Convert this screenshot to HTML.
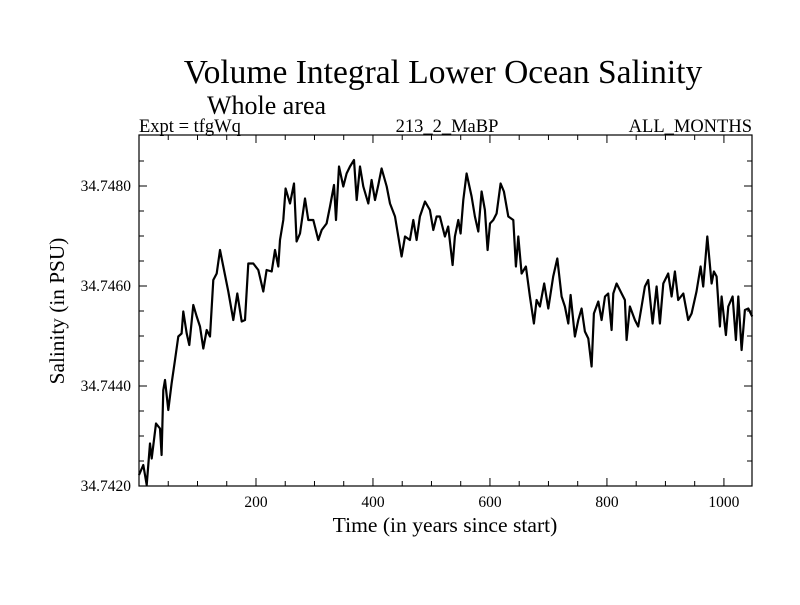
<!DOCTYPE html>
<html><head><meta charset="utf-8"><style>
body{margin:0;background:#fff}
svg text{font-family:"Liberation Serif",serif;fill:#000}
</style></head><body>
<svg id="chart" width="800" height="600" viewBox="0 0 800 600" xmlns="http://www.w3.org/2000/svg">
<rect width="800" height="600" fill="#fff"/>
<text x="443" y="83" font-size="33.5" text-anchor="middle">Volume Integral Lower Ocean Salinity</text>
<text x="207" y="114" font-size="26">Whole area</text>
<text x="139" y="132" font-size="18.5">Expt = tfgWq</text>
<text x="447" y="132" font-size="18.5" text-anchor="middle">213_2_MaBP</text>
<text x="752" y="132" font-size="18.5" text-anchor="end">ALL_MONTHS</text>
<text transform="translate(64,311) rotate(-90)" font-size="21.3" text-anchor="middle">Salinity (in PSU)</text>
<text x="445" y="532" font-size="21.6" text-anchor="middle">Time (in years since start)</text>
<g id="ticks"></g>
<path id="series" fill="none" stroke="#000" stroke-width="2.2" stroke-linejoin="round"/>
<rect x="139" y="135" width="613" height="351" fill="none" stroke="#000" stroke-width="1.2"/>
</svg>
<script>
const years=[0,7.4,13.1,18.8,21.7,29.1,35.9,38.7,41.6,44.5,50.1,55.8,61.5,67.2,72.9,75.8,81.5,86.0,92.9,98.6,104.3,110.0,115.7,121.4,127.1,132.8,138.5,144.2,152.7,161.3,168.1,175.5,181.2,186.9,195.4,204.0,212.5,218.2,226.8,232.5,238.2,241.0,246.7,250.7,258.1,265.0,269.5,275.2,283.8,289.5,298.0,306.6,312.3,320.8,326.5,333.3,336.8,341.9,349.3,355.0,360.7,367.5,372.1,377.8,383.5,392.0,397.7,403.4,409.1,414.8,423.4,429.1,437.6,443.3,449.0,454.7,463.2,468.9,474.6,480.3,488.9,497.4,503.1,508.8,514.5,523.0,528.7,536.2,540.1,545.8,549.8,554.4,560.1,568.6,574.3,580.0,585.7,591.4,596.0,600.0,605.7,611.4,618.2,623.9,631.3,639.9,644.4,648.4,654.1,661.5,668.3,675.2,679.7,685.4,692.8,699.7,708.2,715.1,722.5,728.2,733.9,737.9,745.3,751.0,756.7,762.4,768.1,773.8,777.7,785.2,790.9,796.6,802.2,807.9,810.8,816.5,825.0,830.7,833.6,839.3,847.8,853.5,859.2,864.9,870.6,878.0,884.9,890.6,896.3,904.8,910.5,916.2,921.9,930.5,939.0,944.7,953.2,960.1,964.6,971.5,978.9,982.9,987.4,993.1,996.0,1003.4,1007.4,1014.8,1020.5,1024.5,1030.2,1035.9,1041.6,1048.4];
const salinity=[34.74222,34.74242,34.74202,34.74285,34.74255,34.74325,34.74315,34.74262,34.74392,34.74412,34.74352,34.74405,34.74452,34.74499,34.74505,34.74549,34.74505,34.74482,34.74562,34.74539,34.74519,34.74475,34.74512,34.74499,34.74612,34.74625,34.74672,34.74639,34.74589,34.74532,34.74585,34.74529,34.74532,34.74645,34.74645,34.74632,34.74589,34.74632,34.74629,34.74672,34.74639,34.74692,34.74732,34.74795,34.74765,34.74805,34.74689,34.74705,34.74775,34.74732,34.74732,34.74692,34.74712,34.74725,34.74759,34.74802,34.74732,34.74839,34.74799,34.74825,34.74839,34.74852,34.74772,34.74839,34.74799,34.74765,34.74812,34.74772,34.74802,34.74835,34.74799,34.74765,34.74739,34.74699,34.74659,34.74699,34.74692,34.74732,34.74692,34.74739,34.74769,34.74752,34.74712,34.74739,34.74739,34.74699,34.74719,34.74642,34.74699,34.74732,34.74705,34.74772,34.74825,34.74779,34.74739,34.74709,34.74789,34.74752,34.74672,34.74725,34.74732,34.74745,34.74805,34.74789,34.74739,34.74732,34.74639,34.74699,34.74625,34.74639,34.74579,34.74525,34.74572,34.74559,34.74605,34.74555,34.74619,34.74655,34.74579,34.74559,34.74525,34.74582,34.74499,34.74532,34.74555,34.74509,34.74495,34.74439,34.74545,34.74569,34.74532,34.74579,34.74585,34.74512,34.74585,34.74605,34.74585,34.74572,34.74492,34.74559,34.74532,34.74519,34.74559,34.74599,34.74612,34.74525,34.74599,34.74525,34.74605,34.74625,34.74579,34.74629,34.74572,34.74585,34.74532,34.74545,34.74589,34.74639,34.74599,34.74699,34.74605,34.74629,34.74619,34.74519,34.74579,34.74502,34.74559,34.74579,34.74492,34.74579,34.74472,34.74552,34.74555,34.74539];
const xTickLabels=[200,400,600,800,1000];
const yTickLabels=["34.7420","34.7440","34.7460","34.7480"];

const X0=139,X1=752,Y0=486,Y1=135,XMIN=0,XMAX=1048,YMIN=34.742,YMAX=34.74902;
const sx=v=>X0+(v-XMIN)/(XMAX-XMIN)*(X1-X0);
const sy=v=>Y0-(v-YMIN)/(YMAX-YMIN)*(Y0-Y1);
const NS="http://www.w3.org/2000/svg";
let d="";
years.forEach((y,i)=>{d+=(i?"L":"M")+sx(y).toFixed(1)+","+sy(salinity[i]).toFixed(1);});
document.getElementById("series").setAttribute("d",d);
const g=document.getElementById("ticks");
function line(x1,y1,x2,y2,name){const l=document.createElementNS(NS,"line");
l.setAttribute("x1",x1);l.setAttribute("y1",y1);l.setAttribute("x2",x2);l.setAttribute("y2",y2);
l.setAttribute("stroke","#000");l.setAttribute("stroke-width","1");


g.appendChild(l);}
function text(x,y,s,anchor,name){const t=document.createElementNS(NS,"text");
t.setAttribute("x",x);t.setAttribute("y",y);t.setAttribute("font-size","15.5");t.setAttribute("text-anchor",anchor);t.textContent=s;


g.appendChild(t);}
for(let v=50;v<XMAX;v+=50){const x=sx(v),L=(v%200===0)?8:5;
line(x,Y0,x,Y0-L,"x-tick");line(x,Y1,x,Y1+L,"x-tick-top");}
for(let k=1;k<14;k++){const v=YMIN+k*0.0005,y=sy(v),L=(k%4===0)?8:5;
line(X0,y,X0+L,y,"y-tick");line(X1,y,X1-L,y,"y-tick-right");}
xTickLabels.forEach(v=>text(sx(v),507,String(v),"middle","x-tick-label"));
yTickLabels.forEach(s=>text(131,sy(parseFloat(s))+5,s,"end","y-tick-label"));
</script>
</body></html>
